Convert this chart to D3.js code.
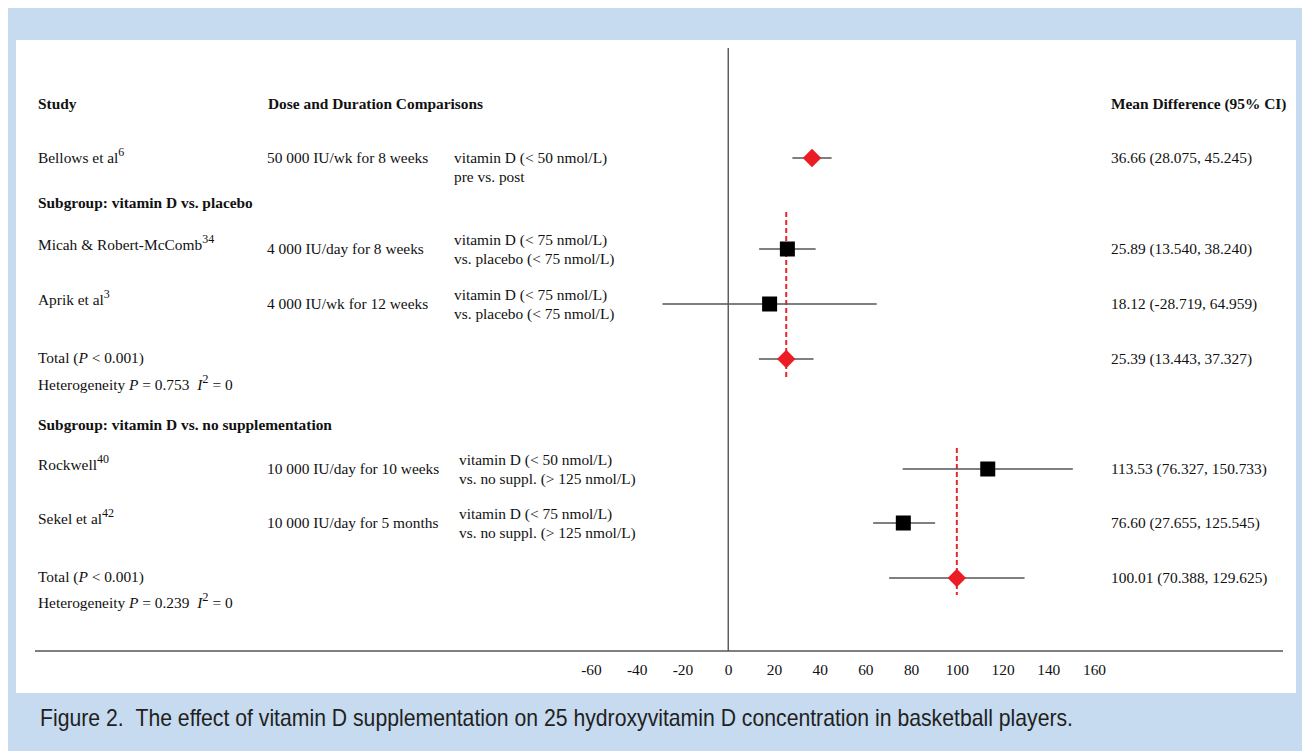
<!DOCTYPE html>
<html>
<head>
<meta charset="utf-8">
<script src="https://cdn.jsdelivr.net/npm/d3@7"></script>
<style>
  body { margin: 0; background: #fff; }
  .serif { font-family: 'Liberation Serif', 'Times New Roman', serif; font-size: 15.4px; fill: #111; }
  .bold { font-weight: bold; }
</style>
</head>
<body>
<div id="chart"></div>
<script>
// data
const studyNames = ['Bellows et al', 'Micah & Robert-McComb', 'Aprik et al', 'Rockwell', 'Sekel et al']
const studyRefs = ['6', '34', '3', '40', '42']
const studyDoses = ['50 000 IU/wk for 8 weeks', '4 000 IU/day for 8 weeks', '4 000 IU/wk for 12 weeks',
  '10 000 IU/day for 10 weeks', '10 000 IU/day for 5 months']
const studyCompare = [
  ['vitamin D (< 50 nmol/L)', 'pre vs. post'],
  ['vitamin D (< 75 nmol/L)', 'vs. placebo (< 75 nmol/L)'],
  ['vitamin D (< 75 nmol/L)', 'vs. placebo (< 75 nmol/L)'],
  ['vitamin D (< 50 nmol/L)', 'vs. no suppl. (> 125 nmol/L)'],
  ['vitamin D (< 75 nmol/L)', 'vs. no suppl. (> 125 nmol/L)']
]
// values printed in the right column
const meanDiff = [36.66, 25.89, 18.12, 113.53, 76.60]
const ciLow = [28.075, 13.540, -28.719, 76.327, 27.655]
const ciHigh = [45.245, 38.240, 64.959, 150.733, 125.545]
// whiskers as drawn in the figure (Sekel's drawn line is shorter than its printed CI)
const drawnLow = [28.075, 13.540, -28.719, 76.327, 63.4]
const drawnHigh = [45.245, 38.240, 64.959, 150.733, 90.5]

const subgroupNames = ['Subgroup: vitamin D vs. placebo', 'Subgroup: vitamin D vs. no supplementation']
const totalMean = [25.39, 100.01]
const totalLow = [13.443, 70.388]
const totalHigh = [37.327, 129.625]
const totalP = ['< 0.001', '< 0.001']
const hetP = ['0.753', '0.239']
const hetI2 = ['0', '0']

const xTicks = [-60, -40, -20, 0, 20, 40, 60, 80, 100, 120, 140, 160]
const caption = 'Figure 2.\u00a0\u00a0The effect of vitamin D supplementation on 25 hydroxyvitamin D concentration in basketball players.'

const width = 1302
const height = 751

const svg = d3.select('#chart').append('svg')
  .attr('width', width)
  .attr('height', height)

// frame
svg.append('rect').attr('x', 8).attr('y', 8).attr('width', width - 8).attr('height', height - 8)
  .attr('fill', '#c6daf0')
svg.append('rect').attr('x', 16).attr('y', 40).attr('width', 1280).attr('height', 653)
  .attr('fill', '#fff')

const xPositionScale = d3.scaleLinear().domain([-60, 160]).range([591, 1094])

// row layout
const rowKeys = ['header', 's0', 'sub0', 's1', 's2', 'total0', 'het0', 'sub1', 's3', 's4', 'total1', 'het1']
const yPositionScale = d3.scaleOrdinal()
  .domain(rowKeys)
  .range([104, 158, 203, 249, 304, 359, 385, 425, 469, 523, 578, 603])

const studySub = [null, 0, 0, 1, 1]
const compX = [454, 459]

// headers
const headers = [
  { text: 'Study', x: 38 },
  { text: 'Dose and Duration Comparisons', x: 268 },
  { text: 'Mean Difference (95% CI)', x: 1111 }
]
svg.selectAll('.header')
  .data(headers)
  .enter()
  .append('text')
  .attr('class', 'serif bold header')
  .attr('x', d => d.x)
  .attr('y', yPositionScale('header') + 5)
  .text(d => d.text)

// subgroup labels
svg.selectAll('.subgroup')
  .data(subgroupNames)
  .enter()
  .append('text')
  .attr('class', 'serif bold subgroup')
  .attr('x', 38)
  .attr('y', (d, i) => yPositionScale('sub' + i) + 5)
  .text(d => d)

// zero line
svg.append('line')
  .attr('x1', xPositionScale(0)).attr('x2', xPositionScale(0))
  .attr('y1', 48).attr('y2', 651)
  .attr('stroke', '#111').attr('stroke-width', 1)

// bottom axis
const xAxis = d3.axisBottom(xPositionScale)
  .tickValues(xTicks)
  .tickSize(0)
  .tickPadding(13)
  .tickFormat(d => String(d))
const axisG = svg.append('g')
  .attr('class', 'axis x-axis')
  .attr('transform', 'translate(0,651)')
  .call(xAxis)
axisG.select('.domain').remove()
axisG.selectAll('text')
  .style('font-family', "'Liberation Serif', 'Times New Roman', serif")
  .style('font-size', '15.4px')
  .attr('fill', '#111')
svg.append('line')
  .attr('x1', 35).attr('x2', 1283)
  .attr('y1', 651).attr('y2', 651)
  .attr('stroke', '#555').attr('stroke-width', 1.5)

// dashed pooled lines
const dashTop = [212, 448]
const dashBottom = [378, 595]
svg.selectAll('.pooled')
  .data(totalMean)
  .enter()
  .append('line')
  .attr('class', 'pooled')
  .attr('x1', d => xPositionScale(d)).attr('x2', d => xPositionScale(d))
  .attr('y1', (d, i) => dashTop[i]).attr('y2', (d, i) => dashBottom[i])
  .attr('stroke', '#e8262b').attr('stroke-width', 2)
  .attr('stroke-dasharray', '5,3')

// studies
const studies = studyNames.map((name, i) => ({
  name, ref: studyRefs[i], dose: studyDoses[i], compare: studyCompare[i],
  md: meanDiff[i], lo: ciLow[i], hi: ciHigh[i], dlo: drawnLow[i], dhi: drawnHigh[i],
  sub: studySub[i], y: yPositionScale('s' + i)
}))

const fmt = (md, lo, hi) => md.toFixed(2) + ' (' + lo.toFixed(3) + ', ' + hi.toFixed(3) + ')'

studies.forEach(function (d, i) {
  const nameText = svg.append('text')
    .attr('class', 'serif')
    .attr('x', 38)
    .attr('y', d.y + (i === 0 ? 5 : 1))
  nameText.append('tspan').text(d.name)
  nameText.append('tspan').attr('dy', -7).style('font-size', '12px').text(d.ref)

  svg.append('text')
    .attr('class', 'serif')
    .attr('x', 267)
    .attr('y', d.y + 5)
    .text(d.dose)

  const cx = d.sub === 1 ? compX[1] : compX[0]
  const startY = i === 0 ? d.y + 5 : d.y - 4
  svg.append('text')
    .attr('class', 'serif')
    .attr('x', cx)
    .attr('y', startY)
    .selectAll('tspan')
    .data(d.compare)
    .enter()
    .append('tspan')
    .attr('x', cx)
    .attr('dy', (t, j) => j === 0 ? 0 : 19)
    .text(t => t)

  svg.append('text')
    .attr('class', 'serif')
    .attr('x', 1111)
    .attr('y', d.y + 5)
    .text(fmt(d.md, d.lo, d.hi))
})

// study CIs and markers
svg.selectAll('.ci')
  .data(studies)
  .enter()
  .append('line')
  .attr('class', 'ci')
  .attr('x1', d => xPositionScale(d.dlo)).attr('x2', d => xPositionScale(d.dhi))
  .attr('y1', d => d.y).attr('y2', d => d.y)
  .attr('stroke', '#555').attr('stroke-width', 1.5)

const diamond = d3.symbol().type(d3.symbolSquare).size(170)
const square = d3.symbol().type(d3.symbolSquare).size(225)

svg.selectAll('.marker')
  .data(studies)
  .enter()
  .append('path')
  .attr('class', 'marker')
  .attr('d', d => d.sub === null ? diamond() : square())
  .attr('transform', d => 'translate(' + xPositionScale(d.md) + ',' + d.y + ')' + (d.sub === null ? ' rotate(45)' : ''))
  .attr('fill', d => d.sub === null ? '#ec1c24' : '#000')

// totals
const totals = totalMean.map((md, i) => ({
  md, lo: totalLow[i], hi: totalHigh[i], p: totalP[i], hp: hetP[i], i2: hetI2[i],
  y: yPositionScale('total' + i), hy: yPositionScale('het' + i)
}))

svg.selectAll('.total-ci')
  .data(totals)
  .enter()
  .append('line')
  .attr('class', 'total-ci')
  .attr('x1', d => xPositionScale(d.lo)).attr('x2', d => xPositionScale(d.hi))
  .attr('y1', d => d.y).attr('y2', d => d.y)
  .attr('stroke', '#555').attr('stroke-width', 1.5)

svg.selectAll('.total-marker')
  .data(totals)
  .enter()
  .append('path')
  .attr('class', 'total-marker')
  .attr('d', diamond())
  .attr('transform', d => 'translate(' + xPositionScale(d.md) + ',' + d.y + ') rotate(45)')
  .attr('fill', '#ec1c24')

totals.forEach(function (d) {
  const t = svg.append('text').attr('class', 'serif').attr('x', 38).attr('y', d.y + 4)
  t.append('tspan').text('Total (')
  t.append('tspan').style('font-style', 'italic').text('P')
  t.append('tspan').text(' ' + d.p + ')')

  const h = svg.append('text').attr('class', 'serif').attr('x', 38).attr('y', d.hy + 5)
  h.append('tspan').text('Heterogeneity ')
  h.append('tspan').style('font-style', 'italic').text('P')
  h.append('tspan').text(' = ' + d.hp + '\u00a0 ')
  h.append('tspan').style('font-style', 'italic').text('I')
  h.append('tspan').attr('dy', -7).style('font-size', '12.5px').text('2')
  h.append('tspan').attr('dy', 7).text(' = ' + d.i2)

  svg.append('text')
    .attr('class', 'serif')
    .attr('x', 1111)
    .attr('y', d.y + 5)
    .text(fmt(d.md, d.lo, d.hi))
})

// caption
svg.append('text')
  .attr('x', 40)
  .attr('y', 726)
  .attr('textLength', 1033)
  .attr('lengthAdjust', 'spacingAndGlyphs')
  .style('font-family', "'Liberation Sans Narrow', 'Arial Narrow', sans-serif")
  .style('font-size', '24px')
  .attr('fill', '#231f20')
  .text(caption)
</script>
</body>
</html>
